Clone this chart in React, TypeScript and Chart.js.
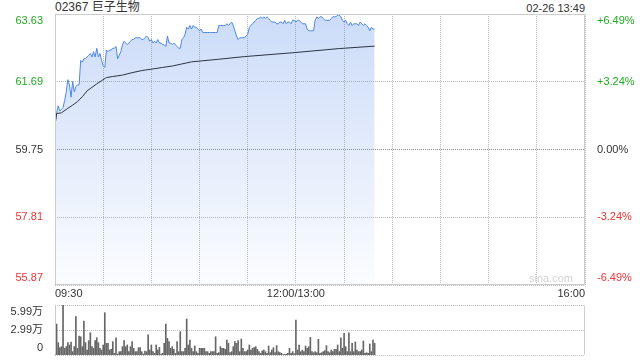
import React, { useEffect, useRef } from 'react';
import { Chart, registerables } from 'chart.js';

Chart.register(...registerables);

const FONT = "Arial, 'Liberation Sans', 'Noto Sans CJK SC', sans-serif";

const stockTitle = '02367 巨子生物';
const timestamp = '02-26 13:49';
const watermark = 'sina.com';

const prevClose = 59.75;
const priceMin = 55.87;
const priceMax = 63.63;
const priceTicks = [55.87, 57.81, 59.75, 61.69, 63.63];
const pctLabels = ['-6.49%', '-3.24%', '0.00%', '+3.24%', '+6.49%'];

const totalMinutes = 330;
const timeGrid = [0, 30, 60, 90, 120, 150, 180, 210, 240, 270, 300, 330];
const timeLabelMinutes = [0, 150, 330];
const timeLabels = ['09:30', '12:00/13:00', '16:00'];

// one price per trading minute from 09:30
const prices = [
  60.45, 60.80, 61.00, 60.85, 60.90, 60.95, 61.15, 61.40, 61.75, 61.60,
  61.25, 61.70, 61.40, 61.55, 61.60, 61.60, 62.30, 62.25, 62.35, 62.35,
  62.40, 62.45, 62.50, 62.40, 62.55, 62.40, 62.65, 62.40, 62.50, 62.30,
  62.15, 62.10, 62.60, 62.55, 62.60, 62.60, 62.65, 62.65, 62.70, 62.35,
  62.45, 62.55, 62.75, 62.85, 62.80, 62.75, 62.80, 62.85, 62.90, 62.90,
  62.95, 62.95, 62.95, 62.95, 62.90, 62.90, 62.95, 63.00, 62.95, 62.85,
  62.90, 62.80, 62.85, 62.80, 62.90, 62.80, 62.80, 62.75, 62.75, 62.70,
  63.00, 62.80, 62.80, 62.75, 62.80, 62.75, 62.70, 62.65, 62.65, 62.90,
  62.95, 63.05, 63.25, 63.20, 63.30, 63.20, 63.30, 63.25, 63.25, 63.20,
  63.15, 63.20, 63.10, 63.10, 63.10, 63.10, 63.10, 63.10, 63.10, 63.10,
  63.10, 63.10, 63.30, 63.30, 63.30, 63.30, 63.30, 63.35, 63.30, 63.35,
  63.40, 63.30, 63.15, 63.00, 62.90, 62.95, 62.95, 62.95, 62.95, 63.00,
  63.05, 63.25, 63.30, 63.35, 63.40, 63.45, 63.50, 63.50, 63.55, 63.50,
  63.55, 63.50, 63.55, 63.50, 63.45, 63.40, 63.40, 63.40, 63.35, 63.35,
  63.40, 63.40, 63.35, 63.45, 63.35, 63.40, 63.40, 63.35, 63.45, 63.45,
  63.40, 63.45, 63.45, 63.40, 63.35, 63.35, 63.35, 63.20, 63.15, 63.15,
  63.15, 63.15, 63.45, 63.55, 63.50, 63.55, 63.55, 63.50, 63.45, 63.45,
  63.45, 63.45, 63.50, 63.55, 63.55, 63.55, 63.60, 63.60, 63.55, 63.45,
  63.40, 63.45, 63.35, 63.30, 63.40, 63.30, 63.35, 63.35, 63.35, 63.30,
  63.40, 63.35, 63.30, 63.35, 63.30, 63.25, 63.15, 63.25, 63.20, 63.20,
];

// average price line, read at these minutes
const avgMinutes = [0, 1, 4, 8, 11, 14, 17, 20, 23, 26, 29, 32, 36, 42, 48, 54, 60, 67, 73, 79, 85, 92, 101, 118, 148, 177, 199];
const avgValues = [60.45, 60.78, 60.80, 60.93, 61.02, 61.12, 61.26, 61.43, 61.53, 61.63, 61.72, 61.81, 61.84, 61.88, 61.95, 62.01, 62.05, 62.10, 62.14, 62.20, 62.26, 62.29, 62.33, 62.41, 62.52, 62.64, 62.71];

// volume per minute (shares)
const volumes = [
  27900, 37100, 14800, 8800, 10000, 59900, 8000, 10000, 14800, 12000,
  15600, 4000, 10000, 45900, 8000, 22700, 21900, 10000, 40700, 14800,
  6000, 17200, 26700, 10000, 8000, 17200, 20700, 14800, 8000, 6000,
  12000, 50700, 14000, 14000, 6000, 6800, 16000, 2000, 20700, 1200,
  4000, 4000, 10000, 17200, 10000, 12000, 4000, 10000, 16000, 8000,
  4000, 4000, 8800, 8800, 4000, 1200, 4800, 4000, 24300, 6000,
  12000, 4000, 2000, 12000, 6000, 9200, 1200, 2000, 14000, 37100,
  20000, 16000, 8000, 10000, 6800, 2000, 16000, 4000, 27900, 4000,
  4000, 8000, 43100, 12000, 18000, 8000, 4000, 10800, 4000, 2000,
  8000, 8000, 8000, 8000, 4000, 4000, 2000, 4000, 4000, 4000,
  21900,
  2000, 2800, 10000, 8000, 8000, 6800, 18000, 14000, 2800, 4000,
  10000, 16000, 14000, 17200, 4000, 19100, 8000, 4000, 4000, 6000,
  12000, 6000, 8000, 8800, 10000, 6800, 4000, 2000, 4800, 6000,
  4000, 2000, 10800, 2800, 6000, 8800, 2800, 11200, 4000, 2800,
  2000, 400, 800, 1200, 2000, 8000, 2000, 4000, 1600,
  41900,
  6000, 12000, 4000, 6000, 4000, 10800, 8000, 10000, 21100, 4000,
  2800, 4000, 2800, 18800, 2000, 2800, 4000, 5200, 11200, 4000,
  2800, 6000, 4000, 6800, 6800, 12000, 4000, 20700, 8000, 25900,
  10000, 4000, 26700, 4000, 14000, 4000, 15600, 6000, 4000, 4000,
  6000, 16800, 2000, 2800, 2000, 13200, 4000, 18000, 14000,
];
const volMax = 59900;
const volTicks = [0, 29900, 59900];

const GREEN = '#22a822';
const RED = '#f03434';
const TEXT = '#333333';
const FRAME = '#cccccc';
const GRID = '#bdbdbd';

const colorFor = (v: number) => (Math.abs(v - prevClose) < 1e-6 ? TEXT : v > prevClose ? GREEN : RED);

// horizontal dotted grid lines, placed with the y scale
const hGridPlugin = {
  id: 'hgrid',
  beforeDatasetsDraw(chart: any) {
    const { ctx, chartArea: a } = chart;
    const ys = chart.scales.y;
    if (!a || !ys) return;
    ctx.save();
    ctx.lineWidth = 1;
    ctx.setLineDash([1, 1]);
    ys.ticks.forEach((t: any) => {
      const y = Math.round(ys.getPixelForValue(t.value) - 0.5) + 0.5;
      const strong = chart.options.plugins.hgrid && chart.options.plugins.hgrid.strong === t.value;
      ctx.strokeStyle = strong ? '#8f8f8f' : GRID;
      ctx.beginPath();
      ctx.moveTo(a.left, y);
      ctx.lineTo(a.right, y);
      ctx.stroke();
    });
    ctx.restore();
  },
};

const framePlugin = {
  id: 'frame',
  afterDraw(chart: any, _args: any, opts: any) {
    const { ctx, chartArea: a } = chart;
    if (!a) return;
    const l = Math.round(a.left) + 0.5;
    const r = Math.round(a.right) - 0.5;
    const t = Math.round(a.top) + 0.5;
    const b = Math.round(a.bottom) - 0.5;
    ctx.save();
    ctx.strokeStyle = FRAME;
    ctx.lineWidth = 1;
    ctx.setLineDash([]);
    ctx.beginPath();
    ctx.moveTo(l, t);
    ctx.lineTo(l, b);
    ctx.moveTo(r, t);
    ctx.lineTo(r, b);
    if (opts && opts.full) {
      ctx.moveTo(l, t);
      ctx.lineTo(r, t);
      ctx.moveTo(l, b);
      ctx.lineTo(r, b);
    }
    ctx.stroke();
    if (opts && opts.mark) {
      ctx.fillStyle = '#d2d2d2';
      ctx.font = `11px ${FONT}`;
      ctx.textAlign = 'right';
      ctx.textBaseline = 'middle';
      ctx.fillText(opts.mark, a.right - 12, a.bottom - 6);
    }
    ctx.restore();
  },
};

const fixY = (w: number) => (s: any) => {
  s.width = w;
  s.paddingTop = 0;
  s.paddingBottom = 0;
};

export default function App() {
  const priceRef = useRef<HTMLCanvasElement>(null);
  const volRef = useRef<HTMLCanvasElement>(null);

  useEffect(() => {
    const lastIdx = priceTicks.length - 1;
    const priceLabel = (v: number, i: number) => {
      const s = v.toFixed(2);
      return i === 0 ? [s, ''] : i === lastIdx ? ['', s] : s;
    };
    const pctLabel = (_v: number, i: number) => {
      const s = pctLabels[i];
      return i === 0 ? [s, ''] : i === lastIdx ? ['', s] : s;
    };
    const tickFont = { size: 11, family: FONT };

    const priceChart = new Chart(priceRef.current as HTMLCanvasElement, {
      type: 'line',
      data: {
        datasets: [
          {
            data: avgMinutes.map((m, i) => ({ x: m, y: avgValues[i] })),
            borderColor: '#2b3542',
            borderWidth: 1,
            pointRadius: 0,
            fill: false,
            tension: 0,
            order: 1,
          },
          {
            data: prices.map((p, i) => ({ x: i, y: p })),
            borderColor: '#4d87e6',
            borderWidth: 1,
            pointRadius: 0,
            tension: 0,
            fill: 'start',
            order: 2,
            backgroundColor: (ctx: any) => {
              const a = ctx.chart.chartArea;
              if (!a) return 'rgba(77,135,230,0.2)';
              const g = ctx.chart.ctx.createLinearGradient(0, a.top, 0, a.bottom);
              g.addColorStop(0, 'rgba(70,128,232,0.28)');
              g.addColorStop(1, 'rgba(70,128,232,0.02)');
              return g;
            },
          },
        ],
      },
      options: {
        animation: false,
        responsive: false,
        maintainAspectRatio: false,
        layout: { padding: { top: 14, left: 0, right: 0, bottom: 0 } },
        plugins: {
          legend: { display: false },
          tooltip: { enabled: false },
          frame: { full: true, mark: watermark },
          hgrid: { strong: prevClose },
        } as any,
        scales: {
          x: {
            type: 'linear',
            min: 0,
            max: totalMinutes,
            offset: false,
            afterBuildTicks: (s: any) => {
              s.ticks = timeGrid.map((v) => ({ value: v }));
            },
            afterFit: (s: any) => {
              s.height = 15;
              s.paddingLeft = 0;
              s.paddingRight = 0;
            },
            ticks: {
              autoSkip: false,
              maxRotation: 0,
              align: 'inner',
              padding: 2,
              color: TEXT,
              font: tickFont,
              callback: (v: any) => {
                const i = timeLabelMinutes.indexOf(v);
                return i >= 0 ? timeLabels[i] : '';
              },
            },
            grid: { color: GRID, drawTicks: false, lineWidth: 1 },
            border: { display: false, dash: [1, 1] },
          } as any,
          y: {
            position: 'left',
            min: priceMin,
            max: priceMax,
            afterBuildTicks: (s: any) => {
              s.ticks = priceTicks.map((v) => ({ value: v }));
            },
            afterFit: fixY(55),
            ticks: {
              autoSkip: false,
              padding: 4,
              font: tickFont,
              color: (ctx: any) => colorFor(ctx.tick.value),
              callback: (v: any, i: number) => priceLabel(v, i),
            },
            grid: { display: false },
            border: { display: false },
          } as any,
          y2: {
            position: 'right',
            min: priceMin,
            max: priceMax,
            afterBuildTicks: (s: any) => {
              s.ticks = priceTicks.map((v) => ({ value: v }));
            },
            afterFit: fixY(55),
            ticks: {
              autoSkip: false,
              padding: 4,
              font: tickFont,
              color: (ctx: any) => colorFor(ctx.tick.value),
              callback: (v: any, i: number) => pctLabel(v, i),
            },
            grid: { display: false },
            border: { display: false },
          } as any,
        },
      },
      plugins: [hGridPlugin, framePlugin],
    });

    const volLast = volTicks.length - 1;
    const volChart = new Chart(volRef.current as HTMLCanvasElement, {
      type: 'bar',
      data: {
        datasets: [
          {
            data: volumes.map((v, i) => ({ x: i, y: v })),
            backgroundColor: '#666666',
            borderWidth: 0,
            barThickness: 1,
          } as any,
        ],
      },
      options: {
        animation: false,
        responsive: false,
        maintainAspectRatio: false,
        layout: { padding: { top: 15, left: 0, right: 55, bottom: 5 } },
        plugins: {
          legend: { display: false },
          tooltip: { enabled: false },
          frame: { full: false },
          hgrid: {},
        } as any,
        scales: {
          x: { type: 'linear', min: 0, max: totalMinutes, offset: false, display: false } as any,
          y: {
            position: 'left',
            min: 0,
            max: volMax,
            afterBuildTicks: (s: any) => {
              s.ticks = volTicks.map((v) => ({ value: v }));
            },
            afterFit: fixY(55),
            ticks: {
              autoSkip: false,
              padding: 4,
              font: tickFont,
              color: TEXT,
              callback: (v: any, i: number) => {
                const s = v === 0 ? '0' : (v / 10000).toFixed(2) + '万';
                return i === 0 ? [s, ''] : i === volLast ? ['', s] : s;
              },
            },
            grid: { display: false },
            border: { display: false },
          } as any,
        },
      },
      plugins: [hGridPlugin, framePlugin],
    });

    return () => {
      priceChart.destroy();
      volChart.destroy();
    };
  }, []);

  return (
    <div style={{ position: 'absolute', left: 0, top: 0, width: 640, height: 360, background: '#fff', fontFamily: FONT }}>
      <div style={{ position: 'absolute', left: 55, top: 0, fontSize: 12, lineHeight: '15px', color: TEXT, whiteSpace: 'nowrap' }}>{stockTitle}</div>
      <div style={{ position: 'absolute', right: 55, top: 1, fontSize: 11, lineHeight: '14px', color: TEXT, whiteSpace: 'nowrap' }}>{timestamp}</div>
      <canvas ref={priceRef} width={640} height={300} style={{ position: 'absolute', left: 0, top: 0, width: 640, height: 300 }} />
      <canvas ref={volRef} width={640} height={70} style={{ position: 'absolute', left: 0, top: 290, width: 640, height: 70 }} />
    </div>
  );
}
